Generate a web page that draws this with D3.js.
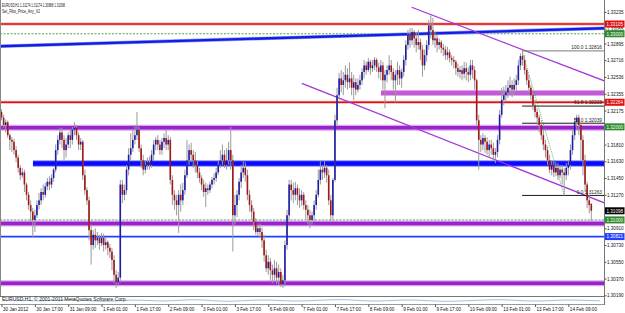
<!DOCTYPE html>
<html><head><meta charset="utf-8">
<script src="https://cdn.jsdelivr.net/npm/d3@7"></script>
<style>body{margin:0;background:#fff}svg{display:block}text{font-family:"Liberation Sans",Arial,sans-serif}</style>
</head><body><svg id="c" width="625" height="313"></svg>
<script>
const opens=[1.3216,1.3210,1.3202,1.3205,1.3191,1.3186,1.3184,1.3175,1.3167,1.3156,
1.3148,1.3151,1.3138,1.3127,1.3116,1.3109,1.3100,1.3105,1.3116,1.3121,
1.3130,1.3127,1.3136,1.3141,1.3138,1.3145,1.3154,1.3175,1.3186,1.3194,
1.3186,1.3175,1.3181,1.3191,1.3186,1.3197,1.3199,1.3191,1.3181,1.3184,
1.3148,1.3132,1.3121,1.3089,1.3073,1.3084,1.3078,1.3081,1.3075,1.3081,
1.3073,1.3076,1.3070,1.3066,1.3057,1.3041,1.3033,1.3038,1.3138,1.3127,
1.3132,1.3154,1.3170,1.3177,1.3186,1.3191,1.3197,1.3177,1.3164,1.3154,
1.3159,1.3162,1.3159,1.3170,1.3181,1.3186,1.3181,1.3175,1.3184,1.3188,
1.3181,1.3186,1.3143,1.3127,1.3121,1.3116,1.3127,1.3121,1.3132,1.3148,
1.3164,1.3175,1.3170,1.3164,1.3159,1.3151,1.3145,1.3138,1.3130,1.3134,
1.3132,1.3138,1.3143,1.3145,1.3151,1.3159,1.3164,1.3170,1.3159,1.3164,
1.3175,1.3164,1.3105,1.3116,1.3127,1.3141,1.3151,1.3156,1.3148,1.3127,
1.3116,1.3109,1.3098,1.3087,1.3091,1.3087,1.3078,1.3062,1.3048,1.3055,
1.3046,1.3041,1.3048,1.3038,1.3044,1.3031,1.3035,1.3073,1.3105,1.3138,
1.3132,1.3127,1.3134,1.3127,1.3121,1.3127,1.3116,1.3111,1.3105,1.3100,
1.3105,1.3116,1.3127,1.3143,1.3154,1.3151,1.3156,1.3148,1.3121,1.3105,
1.3143,1.3207,1.3234,1.3252,1.3245,1.3250,1.3256,1.3248,1.3252,1.3242,
1.3248,1.3240,1.3245,1.3250,1.3259,1.3266,1.3261,1.3270,1.3263,1.3266,
1.3272,1.3264,1.3259,1.3266,1.3250,1.3256,1.3261,1.3266,1.3259,1.3250,
1.3256,1.3261,1.3252,1.3259,1.3272,1.3288,1.3299,1.3293,1.3302,1.3295,
1.3288,1.3291,1.3283,1.3266,1.3277,1.3288,1.3309,1.3304,1.3293,1.3295,
1.3288,1.3291,1.3285,1.3283,1.3277,1.3280,1.3274,1.3272,1.3270,1.3263,
1.3259,1.3261,1.3257,1.3263,1.3259,1.3256,1.3266,1.3261,1.3250,1.3207,
1.3186,1.3181,1.3188,1.3184,1.3175,1.3181,1.3177,1.3170,1.3173,1.3186,
1.3213,1.3229,1.3234,1.3237,1.3242,1.3245,1.3240,1.3245,1.3250,1.3266,
1.3276,1.3272,1.3261,1.3250,1.3242,1.3234,1.3223,1.3216,1.3210,1.3202,
1.3191,1.3181,1.3175,1.3164,1.3154,1.3159,1.3151,1.3156,1.3148,1.3154,
1.3151,1.3148,1.3156,1.3159,1.3175,1.3191,1.3205,1.3210,1.3202,1.3186,
1.3164,1.3138,1.3121,1.31174];
const highs=[1.3219,1.3213,1.3208,1.3207,1.3193,1.3189,1.3187,1.3179,1.3170,1.3159,
1.3156,1.3154,1.3140,1.3130,1.3121,1.3113,1.3111,1.3121,1.3129,1.3134,
1.3138,1.3140,1.3145,1.3147,1.3149,1.3156,1.3181,1.3191,1.3199,1.3199,
1.3191,1.3188,1.3194,1.3197,1.3200,1.3205,1.3202,1.3194,1.3188,1.3186,
1.3154,1.3135,1.3125,1.3095,1.3089,1.3091,1.3087,1.3084,1.3086,1.3085,
1.3081,1.3078,1.3074,1.3070,1.3062,1.3046,1.3044,1.3143,1.3143,1.3138,
1.3159,1.3177,1.3193,1.3197,1.3202,1.3216,1.3200,1.3181,1.3170,1.3164,
1.3167,1.3168,1.3175,1.3186,1.3189,1.3191,1.3186,1.3188,1.3193,1.3197,
1.3191,1.3189,1.3148,1.3132,1.3127,1.3132,1.3138,1.3140,1.3154,1.3186,
1.3181,1.3183,1.3175,1.3173,1.3164,1.3156,1.3148,1.3143,1.3140,1.3138,
1.3141,1.3146,1.3150,1.3156,1.3164,1.3175,1.3181,1.3175,1.3177,1.3184,
1.3200,1.3170,1.3127,1.3132,1.3145,1.3159,1.3164,1.3162,1.3154,1.3132,
1.3121,1.3113,1.3102,1.3095,1.3096,1.3092,1.3084,1.3068,1.3062,1.3059,
1.3052,1.3057,1.3055,1.3052,1.3048,1.3041,1.3078,1.3111,1.3143,1.3143,
1.3140,1.3141,1.3138,1.3134,1.3132,1.3130,1.3121,1.3116,1.3111,1.3109,
1.3121,1.3132,1.3154,1.3164,1.3159,1.3164,1.3159,1.3154,1.3127,1.3145,
1.3213,1.3242,1.3258,1.3261,1.3259,1.3266,1.3263,1.3269,1.3259,1.3256,
1.3252,1.3252,1.3256,1.3263,1.3272,1.3270,1.3274,1.3272,1.3272,1.3275,
1.3274,1.3269,1.3272,1.3270,1.3261,1.3266,1.3277,1.3272,1.3263,1.3261,
1.3270,1.3266,1.3263,1.3277,1.3293,1.3304,1.3306,1.3306,1.3304,1.3302,
1.3304,1.3295,1.3288,1.3283,1.3293,1.3315,1.3320,1.3317,1.3302,1.3299,
1.3295,1.3293,1.3289,1.3287,1.3286,1.3283,1.3277,1.3276,1.3272,1.3268,
1.3265,1.3266,1.3270,1.3269,1.3264,1.3272,1.3272,1.3265,1.3252,1.3213,
1.3191,1.3193,1.3191,1.3189,1.3186,1.3186,1.3183,1.3177,1.3191,1.3218,
1.3242,1.3243,1.3245,1.3250,1.3254,1.3250,1.3252,1.3256,1.3272,1.3279,
1.32816,1.3277,1.3263,1.3256,1.3245,1.3237,1.3229,1.3220,1.3213,1.3207,
1.3197,1.3186,1.3179,1.3170,1.3164,1.3164,1.3162,1.3161,1.3159,1.3159,
1.3156,1.3161,1.3164,1.3181,1.3197,1.3210,1.3213,1.3213,1.3205,1.3191,
1.3170,1.3141,1.3127,1.31174];
const lows=[1.3207,1.3199,1.3194,1.3188,1.3175,1.3173,1.3170,1.3162,1.3151,1.3143,
1.3145,1.3130,1.3121,1.3111,1.3098,1.3081,1.3087,1.3102,1.3111,1.3116,
1.3121,1.3124,1.3132,1.3132,1.3134,1.3141,1.3151,1.3170,1.3181,1.3177,
1.3164,1.3167,1.3177,1.3177,1.3181,1.3191,1.3186,1.3175,1.3175,1.3143,
1.3127,1.3116,1.3078,1.3052,1.3068,1.3070,1.3073,1.3068,1.3072,1.3066,
1.3068,1.3062,1.3059,1.3046,1.3032,1.3027,1.3029,1.3033,1.3118,1.3121,
1.3127,1.3148,1.3164,1.3173,1.3181,1.3186,1.3173,1.3156,1.3148,1.3150,
1.3154,1.3154,1.3156,1.3164,1.3175,1.3175,1.3170,1.3170,1.3177,1.3175,
1.3175,1.3138,1.3116,1.3111,1.3105,1.3086,1.3109,1.3116,1.3127,1.3145,
1.3159,1.3162,1.3156,1.3151,1.3145,1.3140,1.3132,1.3125,1.3114,1.3127,
1.3129,1.3134,1.3138,1.3141,1.3148,1.3156,1.3159,1.3156,1.3154,1.3159,
1.3154,1.3066,1.3095,1.3103,1.3121,1.3134,1.3145,1.3141,1.3121,1.3109,
1.3100,1.3089,1.3084,1.3083,1.3081,1.3070,1.3055,1.3044,1.3041,1.3035,
1.3032,1.3035,1.3031,1.3030,1.3028,1.3027,1.3029,1.3068,1.3100,1.3121,
1.3118,1.3121,1.3116,1.3113,1.3115,1.3111,1.3100,1.3095,1.3091,1.3095,
1.3098,1.3111,1.3124,1.3138,1.3143,1.3145,1.3140,1.3116,1.3098,1.3100,
1.3141,1.3202,1.3229,1.3237,1.3234,1.3242,1.3240,1.3242,1.3234,1.3229,
1.3234,1.3237,1.3240,1.3245,1.3252,1.3256,1.3259,1.3256,1.3259,1.3261,
1.3259,1.3252,1.3250,1.3240,1.3220,1.3248,1.3256,1.3250,1.3240,1.3226,
1.3245,1.3245,1.3242,1.3254,1.3266,1.3283,1.3285,1.3288,1.3285,1.3280,
1.3283,1.3272,1.3254,1.3261,1.3270,1.3283,1.3295,1.3288,1.3285,1.3280,
1.3283,1.3279,1.3276,1.3272,1.3272,1.3269,1.3266,1.3263,1.3256,1.3254,
1.3252,1.3250,1.3252,1.3250,1.3248,1.3250,1.3252,1.3240,1.3202,1.3154,
1.3173,1.3175,1.3172,1.3170,1.3167,1.3170,1.3164,1.3161,1.3167,1.3181,
1.3210,1.3223,1.3227,1.3231,1.3234,1.3232,1.3234,1.3237,1.3245,1.3261,
1.3266,1.3256,1.3245,1.3237,1.3229,1.3218,1.3210,1.3202,1.3194,1.3186,
1.3175,1.3167,1.3159,1.3150,1.3148,1.3146,1.3147,1.3143,1.3145,1.3138,
1.31263,1.3143,1.3148,1.3154,1.3170,1.3186,1.3197,1.3191,1.3164,1.3148,
1.3130,1.3113,1.3107,1.30988];
const closes=[1.3210,1.3202,1.3205,1.3191,1.3186,1.3184,1.3175,1.3167,1.3156,1.3148,
1.3151,1.3138,1.3127,1.3116,1.3109,1.3100,1.3105,1.3116,1.3121,1.3130,
1.3127,1.3136,1.3141,1.3138,1.3145,1.3154,1.3175,1.3186,1.3194,1.3186,
1.3175,1.3181,1.3191,1.3186,1.3197,1.3199,1.3191,1.3181,1.3184,1.3148,
1.3132,1.3121,1.3089,1.3073,1.3084,1.3078,1.3081,1.3075,1.3081,1.3073,
1.3076,1.3070,1.3066,1.3057,1.3041,1.3033,1.3038,1.3138,1.3127,1.3132,
1.3154,1.3170,1.3177,1.3186,1.3191,1.3197,1.3177,1.3164,1.3154,1.3159,
1.3162,1.3159,1.3170,1.3181,1.3186,1.3181,1.3175,1.3184,1.3188,1.3181,
1.3186,1.3143,1.3127,1.3121,1.3116,1.3127,1.3121,1.3132,1.3148,1.3164,
1.3175,1.3170,1.3164,1.3159,1.3151,1.3145,1.3138,1.3130,1.3134,1.3132,
1.3138,1.3143,1.3145,1.3151,1.3159,1.3164,1.3170,1.3159,1.3164,1.3175,
1.3164,1.3105,1.3116,1.3127,1.3141,1.3151,1.3156,1.3148,1.3127,1.3116,
1.3109,1.3098,1.3087,1.3091,1.3087,1.3078,1.3062,1.3048,1.3055,1.3046,
1.3041,1.3048,1.3038,1.3044,1.3031,1.3035,1.3073,1.3105,1.3138,1.3132,
1.3127,1.3134,1.3127,1.3121,1.3127,1.3116,1.3111,1.3105,1.3100,1.3105,
1.3116,1.3127,1.3143,1.3154,1.3151,1.3156,1.3148,1.3121,1.3105,1.3143,
1.3207,1.3234,1.3252,1.3245,1.3250,1.3256,1.3248,1.3252,1.3242,1.3248,
1.3240,1.3245,1.3250,1.3259,1.3266,1.3261,1.3270,1.3263,1.3266,1.3272,
1.3264,1.3259,1.3266,1.3250,1.3256,1.3261,1.3266,1.3259,1.3250,1.3256,
1.3261,1.3252,1.3259,1.3272,1.3288,1.3299,1.3293,1.3302,1.3295,1.3288,
1.3291,1.3283,1.3266,1.3277,1.3288,1.3309,1.3304,1.3293,1.3295,1.3288,
1.3291,1.3285,1.3283,1.3277,1.3280,1.3274,1.3272,1.3270,1.3263,1.3259,
1.3261,1.3257,1.3263,1.3259,1.3256,1.3266,1.3261,1.3250,1.3207,1.3186,
1.3181,1.3188,1.3184,1.3175,1.3181,1.3177,1.3170,1.3173,1.3186,1.3213,
1.3229,1.3234,1.3237,1.3242,1.3245,1.3240,1.3245,1.3250,1.3266,1.3276,
1.3272,1.3261,1.3250,1.3242,1.3234,1.3223,1.3216,1.3210,1.3202,1.3191,
1.3181,1.3175,1.3164,1.3154,1.3159,1.3151,1.3156,1.3148,1.3154,1.3151,
1.3148,1.3156,1.3159,1.3175,1.3191,1.3205,1.3210,1.3202,1.3186,1.3164,
1.3138,1.3121,1.3116,1.31098];

const timeLabels=["30 Jan 2012","30 Jan 17:00","31 Jan 09:00","1 Feb 01:00","1 Feb 17:00","2 Feb 09:00","3 Feb 01:00","3 Feb 17:00","6 Feb 09:00","7 Feb 01:00","7 Feb 17:00","8 Feb 09:00","9 Feb 01:00","9 Feb 17:00","10 Feb 09:00","13 Feb 01:00","13 Feb 17:00","14 Feb 09:00"];
const timeLabelBars=[0,16,32,48,64,80,96,112,128,144,160,176,192,208,224,240,256,272];
const priceTicks=[1.33235,1.33055,1.32895,1.32716,1.32536,1.32355,1.32175,1.31810,1.31630,1.31450,1.31270,1.30910,1.30730,1.30550,1.30370,1.30190];

const redLevels=[1.33105,1.32264];
const greenLevels=[1.33000,1.32000,1.31000];
const purpleBands=[1.31990,1.30962,1.30319];
const violetBand={price:1.32364,fromBar:182.1};
const blueBand={price:1.31606,fromBar:15.1};
const blueLevel=1.30821;
const blueTrend=[[0,1.32866],[289,1.33059]];
const upperTrend=[[196.8,1.33285],[277.6,1.32593]];
const lowerTrend=[[144.1,1.32468],[277.6,1.31286]];
const fibRatios=["100.0","61.8","50.0","0.0"];
const fibPrices=[1.32816,1.32223,1.32039,1.31263];
const fibFromBar=249.8;
const fibTrend=[[249.8,1.32816],[270,1.31263]];
const subValues=[0.5,0.7,0.4,0.6,0.8,0.5,0.3,0.6,0.7,0.4,0.5,0.8,0.6,0.3,0.5,0.7,0.6,0.4,0.5,0.7,0.8,0.5,0.4,0.6,0.7,0.5,0.3,0.5,0.6,0.8,0.6,0.4,0.5,0.7,0.6,0.5];
const headerText="EURUSD,H1  1.31174 1.31174 1.30988 1.31098";
const indicatorName="Set_Fibo_Price_Any_V2";
const copyright="EURUSD,H1, \u00a9 2001-2011 MetaQuotes Software Corp.";

const plotR=604, plotB=296;
const x=d3.scaleLinear().domain([0,283]).range([1.5,591.3]);
const y=d3.scaleLinear().domain([1.30190,1.33235]).range([295.3,11.9]);
const svg=d3.select('#c');
svg.append('rect').attr('width',625).attr('height',313).attr('fill','#fff');
svg.append('clipPath').attr('id','pc').append('rect').attr('x',0).attr('y',0).attr('width',plotR).attr('height',plotB);
const g=svg.append('g').attr('clip-path','url(#pc)');

function hline(p,x0,col,w,dash){
  const l=g.append('line').attr('x1',x0).attr('x2',plotR).attr('y1',y(p)).attr('y2',y(p))
   .attr('stroke',col).attr('stroke-width',w);
  if(dash) l.attr('stroke-dasharray',dash);
  return l;
}
function ray(pts,col,w,extendLeft,dash){
  const [a,b]=pts; const xa=x(a[0]),ya=y(a[1]),xb=x(b[0]),yb=y(b[1]);
  const s=(yb-ya)/(xb-xa);
  const x0=extendLeft?0:xa, x1=plotR+2;
  const l=g.append('line').attr('x1',x0).attr('y1',ya+s*(x0-xa)).attr('x2',x1).attr('y2',ya+s*(x1-xa))
   .attr('stroke',col).attr('stroke-width',w);
  if(dash) l.attr('stroke-dasharray',dash);
}
greenLevels.forEach(p=>hline(p,0,'#3c9a3c',0.9,'2,1.5'));
purpleBands.forEach(p=>{hline(p,0,'#d6a6ec',6);hline(p,0,'#9a22cc',3.6);});
hline(violetBand.price,x(violetBand.fromBar),'#e0a8ec',6);
hline(violetBand.price,x(violetBand.fromBar),'#c45ad8',4);
hline(blueBand.price,x(blueBand.fromBar),'#8c8cff',6.5);
hline(blueBand.price,x(blueBand.fromBar),'#0a0aff',4.5);
hline(blueLevel,0,'#2040ff',1.8);
redLevels.forEach(p=>{hline(p,0,'#f4b0b0',3);hline(p,0,'#e01010',1.6);});
ray(blueTrend,'#9aa0ff',3.6,true);
ray(blueTrend,'#1020e0',2.4,true);
ray(upperTrend,'#a236d8',1.3,false);
ray(lowerTrend,'#a236d8',1.3,false);
fibPrices.forEach((p,i)=>hline(p,x(fibFromBar),i===0?'#7a7a7a':'#1a1a1a',1));
g.append('line').attr('x1',x(fibTrend[0][0])).attr('y1',y(fibTrend[0][1])).attr('x2',x(fibTrend[1][0])).attr('y2',y(fibTrend[1][1]))
 .attr('stroke','#4aa04a').attr('stroke-width',0.8).attr('stroke-dasharray','1,1');

const idx=d3.range(opens.length);
g.append('g').selectAll('line').data(idx).join('line')
 .attr('x1',i=>x(i)).attr('x2',i=>x(i)).attr('y1',i=>y(highs[i])).attr('y2',i=>y(lows[i]))
 .attr('stroke','#9a9a9a').attr('stroke-width',1);
g.append('g').selectAll('rect').data(idx).join('rect')
 .attr('x',i=>x(i)-0.8).attr('width',1.6)
 .attr('y',i=>Math.min(y(opens[i]),y(closes[i])))
 .attr('height',i=>Math.max(0.8,Math.abs(y(opens[i])-y(closes[i]))))
 .attr('fill',i=>closes[i]>=opens[i]?'#1c1ca6':'#a01818');

fibPrices.forEach((p,i)=>{
  svg.append('text').attr('x',602).attr('y',y(p)-1.6).attr('text-anchor','end')
   .attr('font-size',4.8).attr('fill','#222').text(fibRatios[i]+'  '+p.toFixed(5));
});

svg.append('line').attr('x1',0.5).attr('x2',0.5).attr('y1',0).attr('y2',plotB).attr('stroke','#888');
svg.append('line').attr('x1',0).attr('x2',plotR).attr('y1',plotB+0.5).attr('y2',plotB+0.5).attr('stroke','#777');
svg.append('line').attr('x1',0).attr('x2',plotR).attr('y1',304.5).attr('y2',304.5).attr('stroke','#999');
svg.append('line').attr('x1',plotR+0.5).attr('x2',plotR+0.5).attr('y1',0).attr('y2',305).attr('stroke','#777');

const sx=d3.scaleLinear().domain([0,subValues.length-1]).range([4,600]);
const sy=d3.scaleLinear().domain([0,1]).range([303,298.5]);
svg.append('path').datum(subValues).attr('fill','none').attr('stroke','#7fb2e6').attr('stroke-width',0.8)
 .attr('d',d3.line().x((d,i)=>sx(i)).y(d=>sy(d)).curve(d3.curveBasis));
svg.append('text').attr('x',2).attr('y',300.6).attr('font-size',4.6).attr('fill','#222')
 .attr('textLength',125).attr('lengthAdjust','spacingAndGlyphs').text(copyright);

svg.append('text').attr('x',2).attr('y',7).attr('font-size',4.8).attr('fill','#111')
 .attr('textLength',63).attr('lengthAdjust','spacingAndGlyphs').text(headerText);
svg.append('text').attr('x',2).attr('y',12.8).attr('font-size',4.8).attr('fill','#111')
 .attr('textLength',38).attr('lengthAdjust','spacingAndGlyphs').text(indicatorName);

const ya=svg.append('g').attr('transform',`translate(${plotR+0.5},0)`)
 .call(d3.axisRight(y).tickValues(priceTicks).tickSize(2).tickFormat(d=>d.toFixed(5)));
ya.select('.domain').remove();
ya.selectAll('line').attr('stroke','#555');
ya.selectAll('text').attr('x',2.5).attr('font-size',5.2).attr('fill','#111')
 .attr('textLength',16.5).attr('lengthAdjust','spacingAndGlyphs').attr('font-family','Liberation Sans, Arial, sans-serif');

const xa=svg.append('g').attr('transform','translate(0,304.5)')
 .call(d3.axisBottom(x).tickValues(timeLabelBars).tickSize(2.5).tickFormat((d,i)=>timeLabels[i]));
xa.select('.domain').remove();
xa.selectAll('line').attr('stroke','#555');
xa.selectAll('text').attr('text-anchor','start').attr('x',1).attr('y',3).attr('dy','0.71em')
 .attr('font-size',4.6).attr('fill','#111').attr('font-family','Liberation Sans, Arial, sans-serif');

const priceTags=[[redLevels[0],'#e01010'],[greenLevels[0],'#2e8b2e'],[redLevels[1],'#e01010'],[greenLevels[1],'#2e8b2e'],[closes[closes.length-1],'#000'],[greenLevels[2],'#2e8b2e'],[blueLevel,'#2040ff']];
priceTags.forEach(([p,c])=>{
  const yy=y(p);
  svg.append('rect').attr('x',plotR+1).attr('y',yy-3.5).attr('width',19.5).attr('height',7).attr('fill',c);
  svg.append('text').attr('x',plotR+2.5).attr('y',yy).attr('dy','0.35em').attr('font-size',5.2).attr('fill','#fff')
   .attr('textLength',16.5).attr('lengthAdjust','spacingAndGlyphs').text(p.toFixed(5));
});
</script></body></html>
